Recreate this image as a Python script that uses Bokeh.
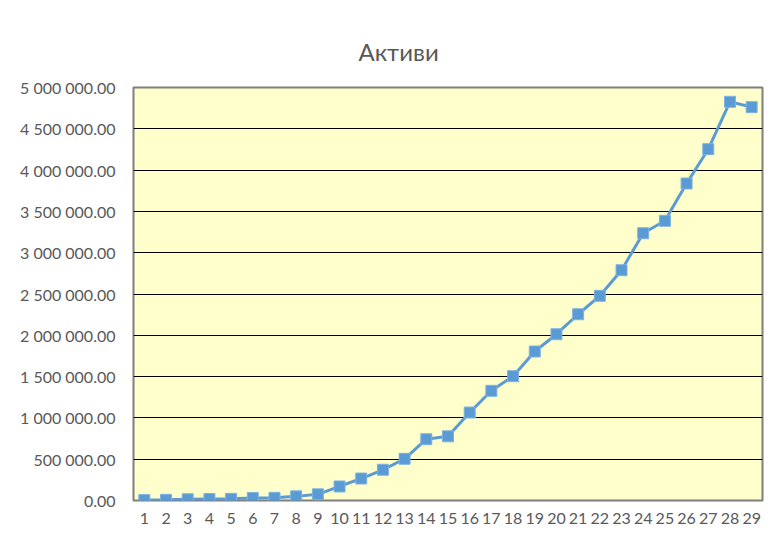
from bokeh.plotting import figure
from bokeh.models import Range1d, FixedTicker
from bokeh.embed import file_html
from bokeh.resources import INLINE

periods = list(range(1, 30))
assets = [5000, 8000, 15000, 18000, 20000, 30000, 32000, 50000, 75000, 170000,
          266000, 372000, 505000, 742000, 777000, 1065000, 1328000, 1505000, 1804000, 2013000,
          2255000, 2478000, 2788000, 3236000, 3386000, 3838000, 4253000, 4827000, 4762000]
y_ticks = [0, 500000, 1000000, 1500000, 2000000, 2500000, 3000000, 3500000, 4000000, 4500000, 5000000]
y_tick_labels = ["0.00", "500 000.00", "1 000 000.00", "1 500 000.00", "2 000 000.00",
                 "2 500 000.00", "3 000 000.00", "3 500 000.00", "4 000 000.00",
                 "4 500 000.00", "5 000 000.00"]
title_text = "Активи"

FONT = "Lato"
GREY = "#595959"

p = figure(width=766, height=526, output_backend="svg", toolbar_location=None,
           x_range=Range1d(0.5, 29.5), y_range=Range1d(0, 5000000),
           min_border_left=133, min_border_right=4, min_border_top=87, min_border_bottom=26,
           title=title_text)

p.title.align = "left"
p.title.offset = 225
p.title.standoff = 43
p.title.text_font = FONT
p.title.text_font_size = "24px"
p.title.text_font_style = "normal"
p.title.text_color = GREY

p.background_fill_color = "#FFFFCC"
p.border_fill_color = "white"
p.outline_line_color = "#7f7f7f"
p.outline_line_width = 2

p.xgrid.grid_line_color = None
p.ygrid.grid_line_color = "black"
p.ygrid.grid_line_width = 1
p.ygrid.ticker = FixedTicker(ticks=y_ticks)

p.yaxis.ticker = FixedTicker(ticks=y_ticks)
p.yaxis.major_label_overrides = {t: s for t, s in zip(y_ticks, y_tick_labels)}
p.xaxis.ticker = FixedTicker(ticks=periods)
p.xaxis.major_label_overrides = {i: str(i) for i in periods}

for ax in (p.xaxis, p.yaxis):
    ax.axis_line_color = None
    ax.major_tick_line_color = None
    ax.minor_tick_line_color = None
    ax.major_label_text_font = FONT
    ax.major_label_text_color = GREY
p.yaxis.major_label_text_font_size = "16px"
p.xaxis.major_label_text_font_size = "16px"
p.yaxis.major_label_standoff = 12
p.xaxis.major_label_standoff = 6

p.line(periods, assets, line_color="#5B9BD5", line_width=3)
p.scatter(periods, assets, marker="square", size=11, fill_color="#5B9BD5",
          line_color="#7FB2E0", line_width=1)

open("out.html", "w").write(file_html(p, INLINE))
